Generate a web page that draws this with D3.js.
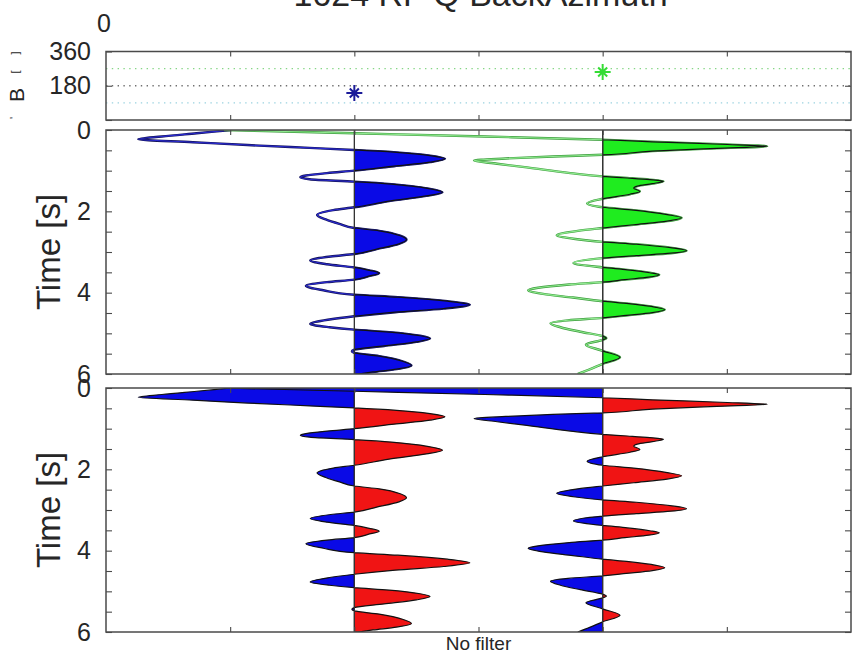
<!DOCTYPE html>
<html>
<head>
<meta charset="utf-8">
<script src="https://cdn.jsdelivr.net/npm/d3@7"></script>
<style>
  body { margin: 0; background: #fff; }
  svg { display: block; }
  text { font-family: "Liberation Sans", Arial, sans-serif; fill: #262626; }
</style>
</head>
<body>
<svg id="chart" width="854" height="661"></svg>
<script>
// ---- data ---------------------------------------------------------------
const titleText = "1624 RF Q BackAzimuth";
const xLabelText = "No filter";
const timeLabelText = "Time [s]";
const topCornerLabel = "0";

const slotDomain = [0, 6];
const slotTicks = [1, 2, 3, 4, 5];
const traceSlots = [2, 4];                 // horizontal slot of each trace

const timeDomain = [0, 6];
const timeTicks = [0, 0.5, 1, 1.5, 2, 2.5, 3, 3.5, 4, 4.5, 5, 5.5, 6];
const timeTickLabels = [0, 2, 4, 6];

const bazDomain = [0, 360];
const bazTicks = [0, 180, 360];
const bazTickLabels = [180, 360];
const bazGuideLines = [90, 180, 270];
const backAzimuths = [142, 252];           // one marker per trace

// trace 1 (blue): time [s] and amplitude
const blueTime = [0.00, 0.08, 0.16, 0.23, 0.30, 0.37, 0.44, 0.49,
  0.55, 0.63, 0.71, 0.79, 0.89, 1.00,
  1.06, 1.12, 1.16, 1.21, 1.27,
  1.33, 1.44, 1.53, 1.62, 1.75, 1.90,
  1.97, 2.09, 2.20, 2.31, 2.41,
  2.48, 2.60, 2.70, 2.80, 2.93, 3.05,
  3.11, 3.21, 3.30, 3.38,
  3.45, 3.52, 3.60, 3.68,
  3.74, 3.83, 3.94, 4.05,
  4.11, 4.21, 4.30, 4.39, 4.48, 4.58,
  4.66, 4.77, 4.85, 4.91,
  4.97, 5.06, 5.13, 5.21, 5.31, 5.40,
  5.44, 5.48, 5.56, 5.70, 5.79, 5.88, 5.95, 6.00];
const blueAmp = [-0.99, -1.27, -1.55, -1.74, -1.30, -0.86, -0.36, 0,
  0.34, 0.61, 0.73, 0.61, 0.32, 0,
  -0.22, -0.39, -0.435, -0.36, 0,
  0.30, 0.60, 0.71, 0.58, 0.28, 0,
  -0.17, -0.30, -0.23, -0.12, 0,
  0.20, 0.37, 0.42, 0.36, 0.18, 0,
  -0.19, -0.355, -0.22, 0,
  0.12, 0.20, 0.11, 0,
  -0.22, -0.39, -0.25, 0,
  0.35, 0.75, 0.93, 0.72, 0.33, 0,
  -0.20, -0.355, -0.20, 0,
  0.28, 0.53, 0.61, 0.50, 0.24, 0,
  -0.02, 0, 0.20, 0.40, 0.46, 0.34, 0.15, 0.03];

// trace 2 (green): time [s] and amplitude
const greenTime = [0.00, 0.08, 0.16, 0.24,
  0.29, 0.35, 0.40, 0.45, 0.52, 0.61,
  0.65, 0.70, 0.75, 0.83, 0.92, 1.06, 1.14,
  1.18, 1.22, 1.26, 1.32, 1.38, 1.43, 1.51, 1.58, 1.69,
  1.80, 1.90,
  1.97, 2.08, 2.16, 2.24, 2.33, 2.41,
  2.48, 2.59, 2.68, 2.75,
  2.81, 2.90, 2.97, 3.03, 3.09, 3.15,
  3.27, 3.38,
  3.44, 3.51, 3.56, 3.62, 3.68, 3.74,
  3.80, 3.88, 3.94, 4.03, 4.12, 4.21,
  4.27, 4.36, 4.42, 4.49, 4.56, 4.62,
  4.68, 4.75, 4.85, 4.96, 5.07,
  5.12, 5.16, 5.28, 5.43, 5.59, 5.75, 5.88, 6.00];
const greenAmp = [-3.05, -2.00, -0.95, 0,
  0.40, 0.95, 1.325, 0.92, 0.40, 0,
  -0.40, -0.78, -1.036, -0.85, -0.61, -0.26, 0,
  0.20, 0.38, 0.49, 0.40, 0.28, 0.25, 0.30, 0.22, 0,
  -0.125, 0,
  0.25, 0.52, 0.636, 0.52, 0.25, 0,
  -0.20, -0.37, -0.22, 0,
  0.27, 0.56, 0.676, 0.55, 0.27, 0,
  -0.235, 0,
  0.20, 0.38, 0.456, 0.37, 0.18, 0,
  -0.27, -0.52, -0.60, -0.48, -0.24, 0,
  0.21, 0.43, 0.50, 0.40, 0.19, 0,
  -0.28, -0.42, -0.34, -0.18, 0,
  0.03, 0, -0.135, 0, 0.14, 0, -0.10, -0.20];

// ---- layout & styles ------------------------------------------------------
const svg = d3.select("#chart");
const L = 106, R = 851;
const boxes = {
  baz:  { top: 51.5, bottom: 120 },
  wig:  { top: 130,  bottom: 374 },
  fill: { top: 388,  bottom: 632 }
};
const axisColor = "#4a4a4a";
const tickFont = 25;
const traceStyles = [
  { edge: "#14145a", core: "#2a2ad0", pos: "#0a0ae6", star: "#1c1c9a" },
  { edge: "#3f9e3f", core: "#8fea8f", pos: "#1fec1f", star: "#35dc35" }
];
const redFill = "#f01414";
const blueFill = "#0a0ae6";
const bazLineColors = ["#9ad2e0", "#707070", "#86d686"];

const x = d3.scaleLinear().domain(slotDomain).range([L, R]);
const yBaz = d3.scaleLinear().domain(bazDomain).range([boxes.baz.bottom, boxes.baz.top]);
const yWig = d3.scaleLinear().domain(timeDomain).range([boxes.wig.top, boxes.wig.bottom]);
const yFill = d3.scaleLinear().domain(timeDomain).range([boxes.fill.top, boxes.fill.bottom]);

const traces = [
  blueTime.map((t, i) => ({ t, a: blueAmp[i] })),
  greenTime.map((t, i) => ({ t, a: greenAmp[i] }))
];

const defs = svg.append("defs");
let clipId = 0;
function clipRect(x0, y0, x1, y1) {
  const id = "clip" + (clipId++);
  defs.append("clipPath").attr("id", id)
    .append("rect").attr("x", x0).attr("y", y0)
    .attr("width", x1 - x0).attr("height", y1 - y0);
  return "url(#" + id + ")";
}

// ---- title ---------------------------------------------------------------
svg.append("text")
  .attr("x", (L + R) / 2 + 2).attr("y", 6)
  .attr("text-anchor", "middle")
  .attr("font-size", 34)
  .text(titleText);

svg.append("text")
  .attr("x", 104).attr("y", 31.5)
  .attr("text-anchor", "middle")
  .attr("font-size", tickFont)
  .text(topCornerLabel);

// ---- panel frames & axes -------------------------------------------------
function styleAxis(g) {
  g.select(".domain").remove();
  g.selectAll(".tick line").attr("stroke", axisColor).attr("stroke-width", 1.1);
  g.selectAll(".tick text")
    .attr("font-size", tickFont)
    .attr("font-family", "Liberation Sans, Arial, sans-serif")
    .attr("fill", "#262626");
  g.attr("font-family", null).attr("font-size", null);
}

function framePanel(box, yScale, yTicks, yLabels) {
  svg.append("g").attr("transform", `translate(0,${box.top})`)
    .call(d3.axisTop(x).tickValues(slotTicks).tickSize(-5).tickFormat(""))
    .call(styleAxis);
  svg.append("g").attr("transform", `translate(0,${box.bottom})`)
    .call(d3.axisBottom(x).tickValues(slotTicks).tickSize(-5).tickFormat(""))
    .call(styleAxis);
  svg.append("g").attr("transform", `translate(${L},0)`)
    .call(d3.axisLeft(yScale).tickValues(yTicks).tickSize(-6).tickPadding(15)
      .tickFormat(d => yLabels.includes(d) ? d : ""))
    .call(styleAxis);
  svg.append("g").attr("transform", `translate(${R},0)`)
    .call(d3.axisRight(yScale).tickValues(yTicks).tickSize(-6).tickFormat(""))
    .call(styleAxis);
  svg.append("rect")
    .attr("x", L).attr("y", box.top)
    .attr("width", R - L).attr("height", box.bottom - box.top)
    .attr("fill", "none").attr("stroke", axisColor).attr("stroke-width", 1.5);
}

// ---- back-azimuth strip --------------------------------------------------
const bazG = svg.append("g").attr("clip-path", clipRect(L, boxes.baz.top, R, boxes.baz.bottom));
bazG.selectAll("line.guide").data(bazGuideLines).join("line")
  .attr("class", "guide")
  .attr("x1", L).attr("x2", R)
  .attr("y1", d => yBaz(d)).attr("y2", d => yBaz(d))
  .attr("stroke", (d, i) => bazLineColors[i])
  .attr("stroke-width", 1.3)
  .attr("stroke-dasharray", "1.4 4.4");

const starArm = 8;
const starPath = [0, 45, 90, 135].map(deg => {
  const r = deg % 90 === 0 ? starArm : starArm * 0.8;
  const dx = r * Math.cos(deg * Math.PI / 180), dy = r * Math.sin(deg * Math.PI / 180);
  return `M${-dx},${-dy}L${dx},${dy}`;
}).join("");
bazG.selectAll("path.star").data(backAzimuths).join("path")
  .attr("class", "star")
  .attr("transform", (d, i) => `translate(${x(traceSlots[i])},${yBaz(d)})`)
  .attr("d", starPath)
  .attr("stroke", (d, i) => traceStyles[i].star)
  .attr("stroke-width", 2)
  .attr("fill", "none");

framePanel(boxes.baz, yBaz, bazTicks, bazTickLabels);

// partially visible axis title at the far left edge
const bazTitle = svg.append("g");
[["B", 24, 95, 21], ["[", 19, 72, 11], ["]", 19, 53, 11], ["'", 18, 118, 11]].forEach(([s, xx, yy, fs]) => {
  bazTitle.append("text")
    .attr("transform", `translate(${xx},${yy}) rotate(-90)`)
    .attr("text-anchor", "middle")
    .attr("font-size", fs)
    .text(s);
});

// ---- traces --------------------------------------------------------------
function traceLine(slot, yScale) {
  return d3.line()
    .x(d => x(slot + d.a))
    .y(d => yScale(d.t))
    .curve(d3.curveMonotoneY);
}
function traceArea(slot, yScale) {
  return d3.area()
    .y(d => yScale(d.t))
    .x0(x(slot))
    .x1(d => x(slot + d.a))
    .curve(d3.curveMonotoneY);
}

// wiggle panel: line trace with positive lobes shaded
const wigG = svg.append("g").attr("clip-path", clipRect(L, boxes.wig.top, R, boxes.wig.bottom));
traces.forEach((pts, i) => {
  const slot = traceSlots[i];
  const st = traceStyles[i];
  const d = traceLine(slot, yWig)(pts);
  wigG.append("path").attr("d", d)
    .attr("fill", "none").attr("stroke", st.edge).attr("stroke-width", 2.4);
  wigG.append("path").attr("d", d)
    .attr("fill", "none").attr("stroke", st.core).attr("stroke-width", 1.1);
  wigG.append("g")
    .attr("clip-path", clipRect(x(slot), boxes.wig.top, R, boxes.wig.bottom))
    .append("path")
    .attr("d", traceArea(slot, yWig)(pts))
    .attr("fill", st.pos)
    .attr("stroke", "#111")
    .attr("stroke-width", 1.2);
});
wigG.selectAll("line.zero").data(traceSlots).join("line")
  .attr("class", "zero")
  .attr("x1", d => x(d)).attr("x2", d => x(d))
  .attr("y1", boxes.wig.top).attr("y2", boxes.wig.bottom)
  .attr("stroke", "#333").attr("stroke-width", 1.3);

framePanel(boxes.wig, yWig, timeTicks, timeTickLabels);

// filled panel: negative lobes blue, positive lobes red
const fillG = svg.append("g").attr("clip-path", clipRect(L, boxes.fill.top, R, boxes.fill.bottom));
traces.forEach((pts, i) => {
  const slot = traceSlots[i];
  fillG.append("g")
    .attr("clip-path", clipRect(L, boxes.fill.top, x(slot), boxes.fill.bottom))
    .append("path")
    .attr("d", traceArea(slot, yFill)(pts))
    .attr("fill", blueFill)
    .attr("stroke", "#111")
    .attr("stroke-width", 1.2);
});
traces.forEach((pts, i) => {
  const slot = traceSlots[i];
  fillG.append("g")
    .attr("clip-path", clipRect(x(slot), boxes.fill.top, R, boxes.fill.bottom))
    .append("path")
    .attr("d", traceArea(slot, yFill)(pts))
    .attr("fill", redFill)
    .attr("stroke", "#111")
    .attr("stroke-width", 1.2);
});
fillG.selectAll("line.zero").data(traceSlots).join("line")
  .attr("class", "zero")
  .attr("x1", d => x(d)).attr("x2", d => x(d))
  .attr("y1", boxes.fill.top).attr("y2", boxes.fill.bottom)
  .attr("stroke", "#333").attr("stroke-width", 1);

framePanel(boxes.fill, yFill, timeTicks, timeTickLabels);

// ---- axis titles ---------------------------------------------------------
[boxes.wig, boxes.fill].forEach(box => {
  svg.append("text")
    .attr("transform", `translate(60,${(box.top + box.bottom) / 2}) rotate(-90)`)
    .attr("text-anchor", "middle")
    .attr("font-size", 33)
    .text(timeLabelText);
});

svg.append("text")
  .attr("x", (L + R) / 2).attr("y", 650)
  .attr("text-anchor", "middle")
  .attr("font-size", 19)
  .text(xLabelText);
</script>
</body>
</html>
